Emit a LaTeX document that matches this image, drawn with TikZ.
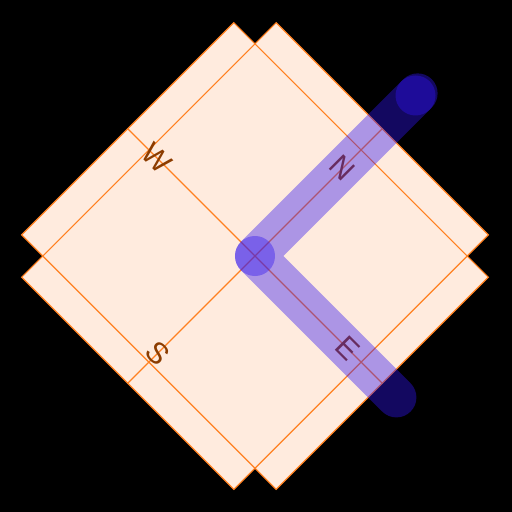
\documentclass[tikz,border=0pt]{standalone}
\usepackage{fontspec}
\setmainfont{Liberation Sans}
\usetikzlibrary{calc}
\definecolor{peach}{RGB}{255,235,222}
\definecolor{roadedge}{RGB}{255,128,32}
\definecolor{labelbrown}{RGB}{140,60,0}
\definecolor{routeblue}{RGB}{48,20,240}

\begin{document}
\begin{tikzpicture}[x=.02cm,y=.02cm,line width=.7pt,font=\fontsize{17}{19}\selectfont]
\fill[black] (-256,-256) rectangle (256,256);
\useasboundingbox (-256,-256) rectangle (256,256);
\begin{scope}[shift={(-1,0)},rotate=-45]
% the two roads
\fill[peach] (-180,-150) rectangle (180,150);
\fill[peach] (-150,-180) rectangle (150,180);
\draw[roadedge] (-180,-150) rectangle (180,150);
\draw[roadedge] (-150,-180) rectangle (150,180);
\draw[roadedge] (-180,0) -- (180,0);
\draw[roadedge] (0,-180) -- (0,180);
\node[text=labelbrown,rotate=-45] (lblN) at (0,124) {N};
\node[text=labelbrown,rotate=-45] (lblE) at (131,0) {E};
\node[text=labelbrown,rotate=-45] (lblS) at (0,-138) {S};
\node[text=labelbrown,rotate=-45] (lblW) at (-139,0) {W};
% route
\coordinate (hub) at (0,0);
\coordinate (nend) at (0,227);
\coordinate (eend) at (200,0);
\draw[routeblue,opacity=.4,line width=.8cm,line cap=round,line join=round] ($(nend)+(0,3)$) -- (hub) -- (eend);
\fill[routeblue,opacity=.4] (nend) circle (20);
\fill[routeblue,opacity=.4] (hub) circle (20);
\end{scope}
\end{tikzpicture}
\end{document}
